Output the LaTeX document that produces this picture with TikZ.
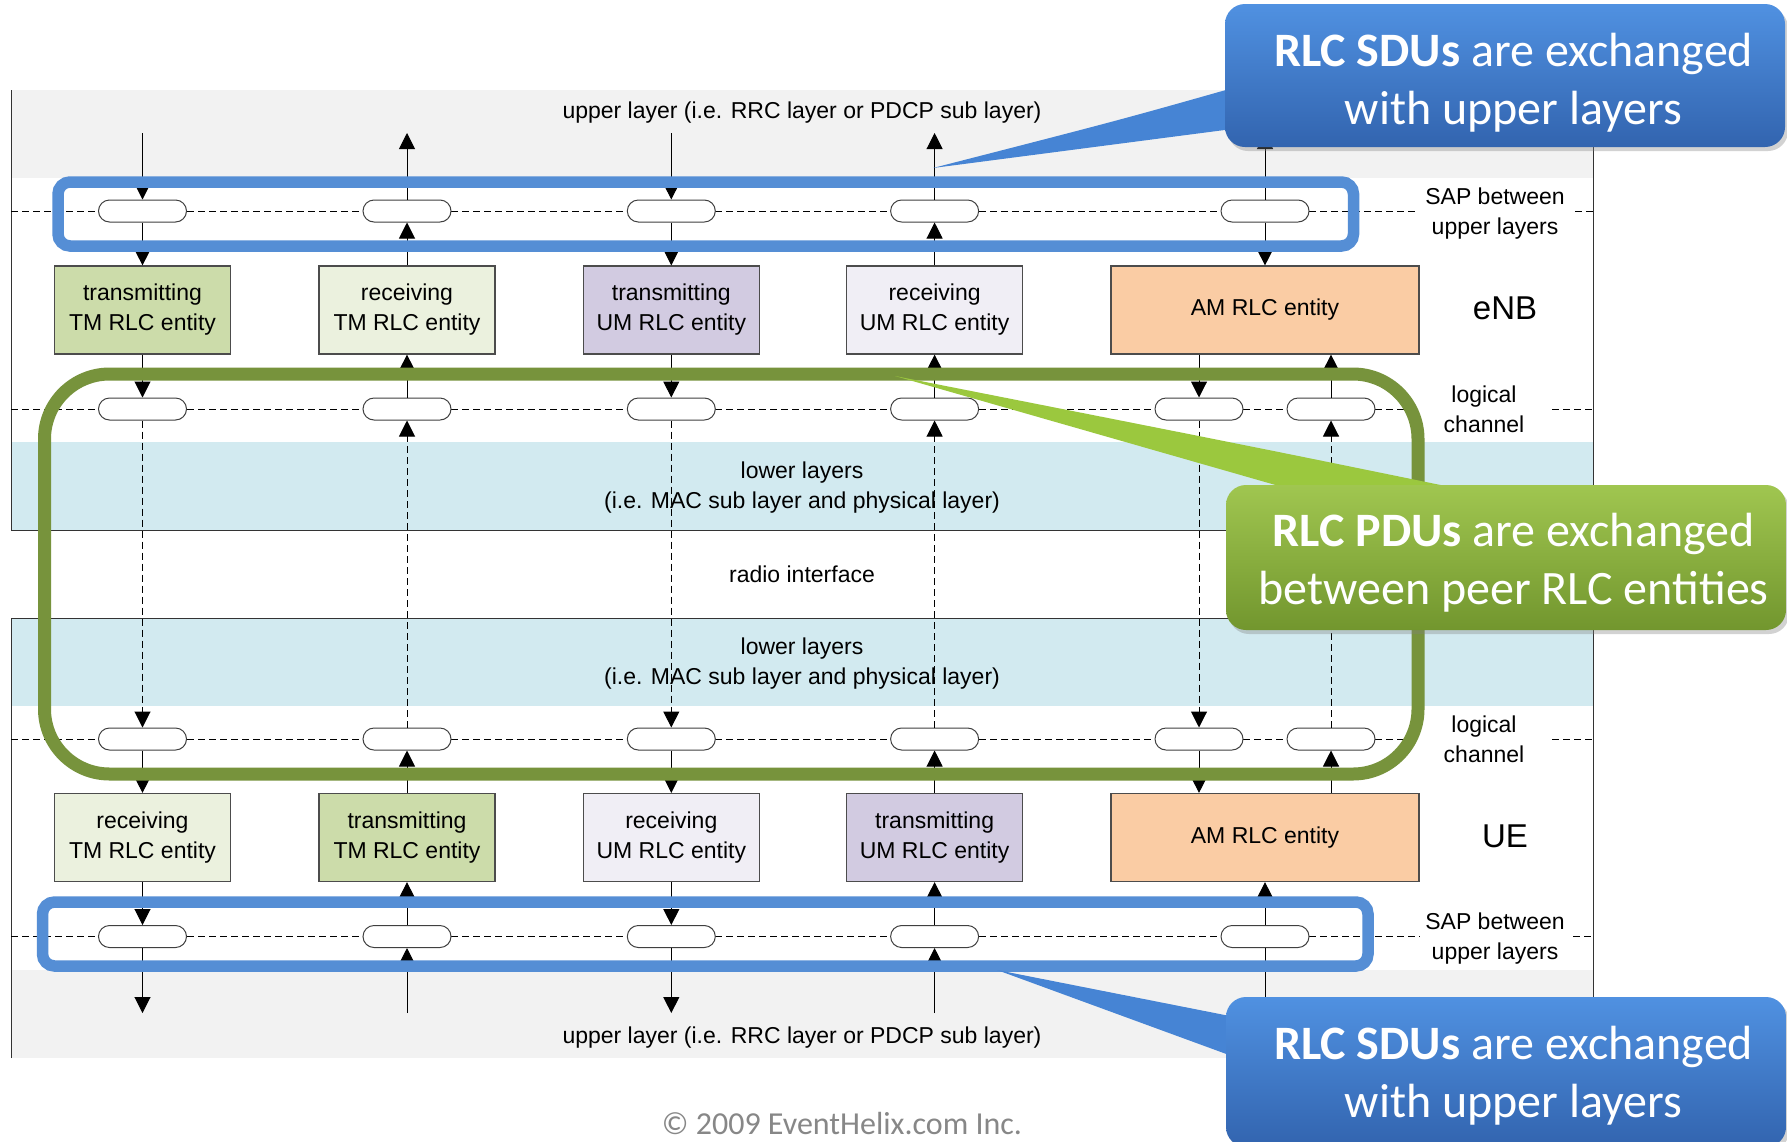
\documentclass[tikz,border=0pt]{standalone}
\usepackage{fontspec}
\setmainfont{Liberation Sans}
\newfontfamily\calfont{Carlito}
\usetikzlibrary{arrows.meta,shapes.misc,shadows}
\definecolor{sapblue}{RGB}{85,142,213}
\definecolor{pdugreen}{RGB}{119,147,60}
\definecolor{graybg}{RGB}{242,242,242}
\definecolor{lowblue}{RGB}{210,234,240}
\definecolor{txtm}{RGB}{204,220,170}
\definecolor{rxtm}{RGB}{235,241,222}
\definecolor{txum}{RGB}{210,203,225}
\definecolor{rxum}{RGB}{240,238,245}
\definecolor{amc}{RGB}{250,204,164}
\definecolor{calltop}{RGB}{80,145,225}
\definecolor{callbot}{RGB}{50,100,175}
\definecolor{callptr}{RGB}{70,132,212}
\definecolor{gcalltop}{RGB}{160,198,80}
\definecolor{gcallbot}{RGB}{114,150,46}
\definecolor{gcallptr}{RGB}{155,200,62}
\begin{document}
\begin{tikzpicture}[x=1pt,y=-1pt,
  every node/.style={font=\fontsize{23}{30}\selectfont, text=black},
  ent/.style={draw=black!70, line width=1.2pt, minimum width=176pt, minimum height=88pt, inner sep=0pt, align=center},
  sap/.style={draw=black!75, rounded rectangle, fill=white, minimum width=88pt, minimum height=22pt, inner sep=0pt, line width=1pt},
  arr/.style={-{Triangle[length=16pt,width=16pt]}, line width=1pt},
  darr/.style={arr, dash pattern=on 7pt off 4pt},
  hdash/.style={line width=1pt, dash pattern=on 7pt off 4pt},
  frame/.style={line width=1pt, draw=black!80},
  sapring/.style={draw=sapblue, line width=11.5pt, rounded corners=12pt},
  pduring/.style={draw=pdugreen, line width=13pt, rounded corners=65pt},
  bluecall/.style={rounded corners=20pt, top color=calltop, bottom color=callbot, draw=none,
     minimum width=560pt, inner sep=0pt,
     drop shadow={shadow xshift=3pt, shadow yshift=-4pt, opacity=0.35}},
  greencall/.style={bluecall, top color=gcalltop, bottom color=gcallbot},
  calltext/.style={text=white, align=center, font=\calfont\fontsize{48}{58}\selectfont},
  rlab/.style={align=center},
  big/.style={font=\fontsize{33}{36}\selectfont}
]
\useasboundingbox (0,0) rectangle (1787,1141);
\fill[white] (0,0) rectangle (1787,1141);

% background bands and frames
\fill[graybg] (11,90) rectangle (1593,178);
\fill[graybg] (11,970) rectangle (1593,1058);
\fill[lowblue] (11,442) rectangle (1593,530);
\fill[lowblue] (11,618) rectangle (1593,706);
\draw[frame] (11,90) -- (11,530) -- (1593,530) -- (1593,90);
\draw[frame] (11,1058) -- (11,618) -- (1593,618) -- (1593,1058);

% dashed rows
\foreach \y/\a/\b in {211/1415/1575, 409/1418/1552, 739/1418/1552, 936.5/1420/1573} {
  \draw[hdash] (11,\y) -- (\a,\y);
  \draw[hdash] (\b,\y) -- (1593,\y);
}

% texts
\node (upT) at (802,113) {upper layer (i.e. RRC layer or PDCP sub layer)};
\node[align=center] (llT) at (802,488) {lower layers\\(i.e. MAC sub layer and physical layer)};
\node (radio) at (802,574) {radio interface};
\node[align=center] (llU) at (802,664) {lower layers\\(i.e. MAC sub layer and physical layer)};
\node (upB) at (802,1038) {upper layer (i.e. RRC layer or PDCP sub layer)};
\node[rlab] (sapT) at (1495,214) {SAP between\\upper layers};
\node[big] (enb) at (1505,308) {eNB};
\node[rlab] (lcT) at (1484,409) {logical\\channel};
\node[rlab] (lcB) at (1484,739) {logical\\channel};
\node[big] (ue) at (1505,836.5) {UE};
\node[rlab] (sapB) at (1495,938.5) {SAP between\\upper layers};

% end points
\coordinate (t1) at (142.5,133); \coordinate (t2) at (407,133);
\coordinate (t3) at (671.3,133); \coordinate (t4) at (934.6,133);
\coordinate (t5) at (1265,133);
\coordinate (d1) at (142.5,1013); \coordinate (d2) at (407,1013);
\coordinate (d3) at (671.3,1013); \coordinate (d4) at (934.6,1013);
\coordinate (d5) at (1265,1013);

% SAP ovals
\node[sap] (u1) at (142.5,211) {}; \node[sap] (u2) at (407,211) {};
\node[sap] (u3) at (671.3,211) {}; \node[sap] (u4) at (934.6,211) {};
\node[sap] (u5) at (1265,211) {};
\node[sap] (l1) at (142.5,409) {}; \node[sap] (l2) at (407,409) {};
\node[sap] (l3) at (671.3,409) {}; \node[sap] (l4) at (934.6,409) {};
\node[sap] (l5) at (1199,409) {}; \node[sap] (l6) at (1331,409) {};
\node[sap] (m1) at (142.5,739) {}; \node[sap] (m2) at (407,739) {};
\node[sap] (m3) at (671.3,739) {}; \node[sap] (m4) at (934.6,739) {};
\node[sap] (m5) at (1199,739) {}; \node[sap] (m6) at (1331,739) {};
\node[sap] (b1) at (142.5,936.5) {}; \node[sap] (b2) at (407,936.5) {};
\node[sap] (b3) at (671.3,936.5) {}; \node[sap] (b4) at (934.6,936.5) {};
\node[sap] (b5) at (1265,936.5) {};

% entities
\node[ent, fill=txtm] (e1) at (142.5,310) {transmitting\\TM RLC entity};
\node[ent, fill=rxtm] (e2) at (407,310) {receiving\\TM RLC entity};
\node[ent, fill=txum] (e3) at (671.3,310) {transmitting\\UM RLC entity};
\node[ent, fill=rxum] (e4) at (934.6,310) {receiving\\UM RLC entity};
\node[ent, fill=amc, minimum width=308pt] (e5) at (1265,310) {AM RLC entity};
\node[ent, fill=rxtm] (f1) at (142.5,837.5) {receiving\\TM RLC entity};
\node[ent, fill=txtm] (f2) at (407,837.5) {transmitting\\TM RLC entity};
\node[ent, fill=rxum] (f3) at (671.3,837.5) {receiving\\UM RLC entity};
\node[ent, fill=txum] (f4) at (934.6,837.5) {transmitting\\UM RLC entity};
\node[ent, fill=amc, minimum width=308pt] (f5) at (1265,837.5) {AM RLC entity};

% downward columns (1 and 3)
\foreach \i in {1,3} {
  \draw[arr] (t\i) -- (u\i);
  \draw[arr] (u\i) -- (e\i);
  \draw[arr] (e\i) -- (l\i);
  \draw[darr] (l\i) -- (m\i);
  \draw[arr] (m\i) -- (f\i);
  \draw[arr] (f\i) -- (b\i);
  \draw[arr] (b\i) -- (d\i);
}
% upward columns (2 and 4)
\foreach \i in {2,4} {
  \draw[arr] (u\i) -- (t\i);
  \draw[arr] (e\i) -- (u\i);
  \draw[arr] (l\i) -- (e\i);
  \draw[darr] (m\i) -- (l\i);
  \draw[arr] (f\i) -- (m\i);
  \draw[arr] (b\i) -- (f\i);
  \draw[arr] (d\i) -- (b\i);
}
% AM columns
\draw[arr] (u5) -- (t5);
\draw[arr] (u5) -- (e5);
\draw[arr] (e5.south -| l5) -- (l5);
\draw[arr] (l6) -- (e5.south -| l6);
\draw[darr] (l5) -- (m5);
\draw[darr] (m6) -- (l6);
\draw[arr] (m5) -- (f5.north -| m5);
\draw[arr] (f5.north -| m6) -- (m6);
\draw[arr] (b5) -- (f5);
\draw[arr] (b5) -- (d5);

% highlight rings
\draw[sapring] (58,182) rectangle (1353.5,246);
\draw[sapring] (42.5,902) rectangle (1368,966);
\draw[pduring] (44.5,374) rectangle (1418,774);

% callouts
\fill[callptr] (933,168) .. controls (1120,120) .. (1240,86) -- (1240,128) -- cycle;
\fill[gcallptr] (895,376) .. controls (1250,446) .. (1465,490) -- (1300,492) -- cycle;
\fill[callptr] (997,970) -- (1240,1018) -- (1240,1059) -- cycle;
\node[bluecall, minimum height=143pt] (c1) at (1505,75.5) {};
\node[greencall, minimum height=145pt] (c2) at (1506,557.5) {};
\node[bluecall, minimum height=150pt] (c3) at (1506,1072) {};
\node[calltext] (c1t) at (1513.5,82.5) {{\bfseries RLC SDUs} are exchanged\\with upper layers};
\node[calltext] (c2t) at (1513.5,563) {{\bfseries RLC PDUs} are exchanged\\between peer RLC entities};
\node[calltext] (c3t) at (1513.5,1075.5) {{\bfseries RLC SDUs} are exchanged\\with upper layers};

\node[font=\calfont\fontsize{32}{36}\selectfont, text=black!47] (copy) at (842,1123) {© 2009 EventHelix.com Inc.};
\end{tikzpicture}
\end{document}
